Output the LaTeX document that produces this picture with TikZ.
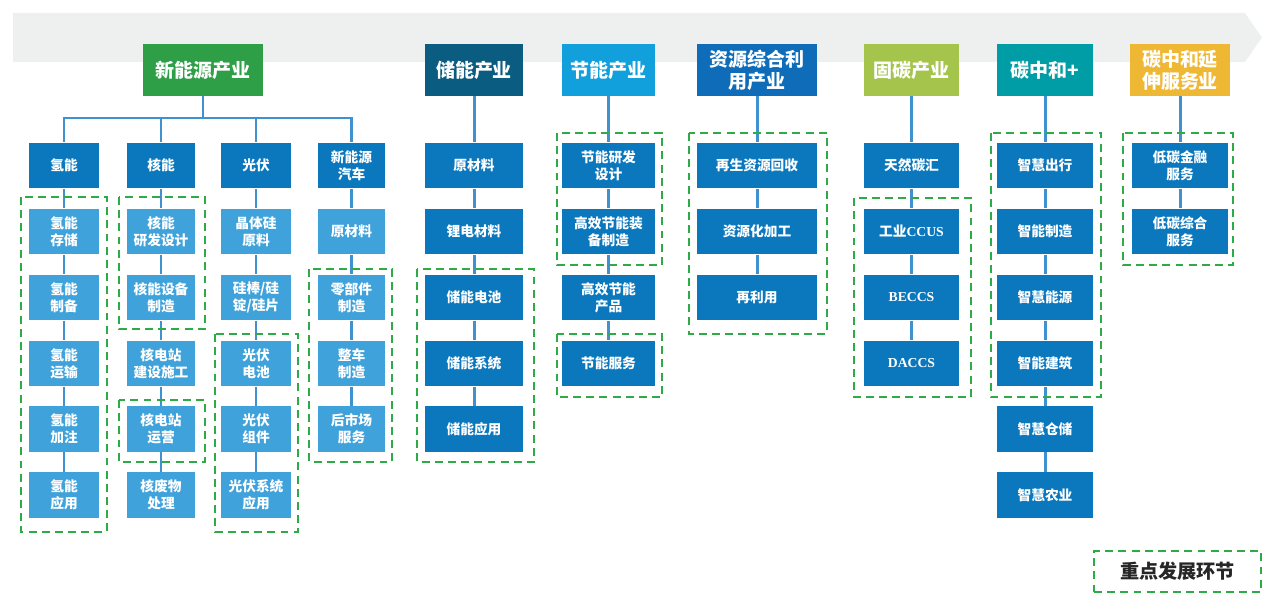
\documentclass[tikz,border=0pt]{standalone}
\usepackage{fontspec}
\setmainfont{Noto Sans CJK SC}
\newfontfamily\serifen{Liberation Serif}
\definecolor{bannergray}{HTML}{EEF0F0}
\definecolor{linkblue}{HTML}{4091D0}
\definecolor{boxblue}{HTML}{0B78BE}
\definecolor{lightblue}{HTML}{40A2DA}
\definecolor{keygreen}{HTML}{2EAA46}
\definecolor{hdrgreen}{HTML}{2E9F47}
\definecolor{hdrnavy}{HTML}{0A5C80}
\definecolor{hdrsky}{HTML}{11A0DB}
\definecolor{hdrblue}{HTML}{0E6CB8}
\definecolor{hdrlime}{HTML}{A4C44C}
\definecolor{hdrteal}{HTML}{009DA6}
\definecolor{hdrgold}{HTML}{EFB834}
\tikzset{
  link/.style={draw=linkblue, line width=1.7pt},
  hdr/.style={fill=#1, text=white, font=\bfseries\fontsize{10.8}{12.5}\selectfont,
    minimum height=1.04cm, inner sep=0pt, align=center},
  box/.style={fill=boxblue, text=white, font=\bfseries\fontsize{7.8}{9.5}\selectfont,
    minimum height=0.92cm, inner sep=0pt, align=center},
  lbox/.style={box, fill=lightblue},
  keyframe/.style={draw=keygreen, line width=1.1pt, dash pattern=on 4.5pt off 3pt},
  colq/.style={minimum width=1.4cm},
  colh/.style={minimum width=1.36cm},
  colc/.style={minimum width=1.34cm},
  colcn/.style={minimum width=1.96cm},
  coljn/.style={minimum width=1.86cm},
  colzy/.style={minimum width=2.4cm},
  colgt/.style={minimum width=1.9cm},
  coltz/.style={minimum width=1.92cm},
}
\begin{document}
\begin{tikzpicture}[x=0.02cm,y=-0.02cm]
  \useasboundingbox (0,0) rectangle (1280,611);
  % banner arrow
  \fill[bannergray] (13,13) -- (1245,13) -- (1262,37.5) -- (1245,62) -- (13,62) -- cycle;

  % headers
  \node[hdr=hdrgreen, minimum width=2.4cm] (xny) at (203,70) {新能源产业};
  \node[hdr=hdrnavy, colcn] (cny) at (474,70) {储能产业};
  \node[hdr=hdrsky, coljn] (jny) at (608.5,70) {节能产业};
  \node[hdr=hdrblue, colzy] (zyy) at (757,70) {资源综合利\\用产业};
  \node[hdr=hdrlime, colgt] (gty) at (911.5,70) {固碳产业};
  \node[hdr=hdrteal, coltz] (tzh) at (1045,70) {碳中和+};
  \node[hdr=hdrgold, minimum width=2cm] (tys) at (1180,70) {碳中和延\\伸服务业};

  % new energy sub-industries
  \node[box, colq] (qn0) at (64,165.5) {氢能};
  \node[lbox, colq] (qn1) at (64,231.5) {氢能\\存储};
  \node[lbox, colq] (qn2) at (64,297.5) {氢能\\制备};
  \node[lbox, colq] (qn3) at (64,363.5) {氢能\\运输};
  \node[lbox, colq] (qn4) at (64,429) {氢能\\加注};
  \node[lbox, colq] (qn5) at (64,495) {氢能\\应用};

  \node[box, colh] (hn0) at (161,165.5) {核能};
  \node[lbox, colh] (hn1) at (161,231.5) {核能\\研发设计};
  \node[lbox, colh] (hn2) at (161,297.5) {核能设备\\制造};
  \node[lbox, colh] (hn3) at (161,363.5) {核电站\\建设施工};
  \node[lbox, colh] (hn4) at (161,429) {核电站\\运营};
  \node[lbox, colh] (hn5) at (161,495) {核废物\\处理};

  \node[box, colq] (gf0) at (256,165.5) {光伏};
  \node[lbox, colq] (gf1) at (256,231.5) {晶体硅\\原料};
  \node[lbox, colq] (gf2) at (256,297.5) {硅棒/硅\\锭/硅片};
  \node[lbox, colq] (gf3) at (256,363.5) {光伏\\电池};
  \node[lbox, colq] (gf4) at (256,429) {光伏\\组件};
  \node[lbox, colq] (gf5) at (256,495) {光伏系统\\应用};

  \node[box, colc] (qc0) at (351.5,165.5) {新能源\\汽车};
  \node[lbox, colc] (qc1) at (351.5,231.5) {原材料};
  \node[lbox, colc] (qc2) at (351.5,297.5) {零部件\\制造};
  \node[lbox, colc] (qc3) at (351.5,363.5) {整车\\制造};
  \node[lbox, colc] (qc4) at (351.5,429) {后市场\\服务};

  % other industries
  \node[box, colcn] (cn0) at (474,165.5) {原材料};
  \node[box, colcn] (cn1) at (474,231.5) {锂电材料};
  \node[box, colcn] (cn2) at (474,297.5) {储能电池};
  \node[box, colcn] (cn3) at (474,363.5) {储能系统};
  \node[box, colcn] (cn4) at (474,429) {储能应用};

  \node[box, coljn] (jn0) at (608.5,165.5) {节能研发\\设计};
  \node[box, coljn] (jn1) at (608.5,231.5) {高效节能装\\备制造};
  \node[box, coljn] (jn2) at (608.5,297.5) {高效节能\\产品};
  \node[box, coljn] (jn3) at (608.5,363.5) {节能服务};

  \node[box, colzy] (zy0) at (757,165.5) {再生资源回收};
  \node[box, colzy] (zy1) at (757,231.5) {资源化加工};
  \node[box, colzy] (zy2) at (757,297.5) {再利用};

  \node[box, colgt] (gt0) at (911.5,165.5) {天然碳汇};
  \node[box, colgt] (gt1) at (911.5,231.5) {工业{\serifen CCUS}};
  \node[box, colgt] (gt2) at (911.5,297.5) {\serifen BECCS};
  \node[box, colgt] (gt3) at (911.5,363.5) {\serifen DACCS};

  \node[box, coltz] (tz0) at (1045,165.5) {智慧出行};
  \node[box, coltz] (tz1) at (1045,231.5) {智能制造};
  \node[box, coltz] (tz2) at (1045,297.5) {智慧能源};
  \node[box, coltz] (tz3) at (1045,363.5) {智能建筑};
  \node[box, coltz] (tz4) at (1045,429) {智慧仓储};
  \node[box, coltz] (tz5) at (1045,495) {智慧农业};

  \node[box, coltz] (ys0) at (1180,165.5) {低碳金融\\服务};
  \node[box, coltz] (ys1) at (1180,231.5) {低碳综合\\服务};

  % connectors
  \coordinate (bar) at (203,118);
  \draw[link] (xny.south) -- (bar);
  \foreach \c in {qn0,hn0,gf0,qc0} {\draw[link] (\c.north) |- (bar);}
  \foreach \a/\b in {cny/cn0,jny/jn0,zyy/zy0,gty/gt0,tzh/tz0,tys/ys0} {\draw[link] (\a) -- (\b);}
  \foreach \a/\b in {qn0/qn1,qn1/qn2,qn2/qn3,qn3/qn4,qn4/qn5,
    hn0/hn1,hn1/hn2,hn2/hn3,hn3/hn4,hn4/hn5,
    gf0/gf1,gf1/gf2,gf2/gf3,gf3/gf4,gf4/gf5,
    qc0/qc1,qc1/qc2,qc2/qc3,qc3/qc4,
    cn0/cn1,cn1/cn2,cn2/cn3,cn3/cn4,
    jn0/jn1,jn1/jn2,jn2/jn3,
    zy0/zy1,zy1/zy2,
    gt0/gt1,gt1/gt2,gt2/gt3,
    tz0/tz1,tz1/tz2,tz2/tz3,tz3/tz4,tz4/tz5,
    ys0/ys1} {\draw[link] (\a) -- (\b);}

  % key links
  \draw[keyframe] (21,197) rectangle (107,532);
  \draw[keyframe] (119,197) rectangle (205,329);
  \draw[keyframe] (119,400) rectangle (205,462);
  \draw[keyframe] (215,334) rectangle (298,532);
  \draw[keyframe] (309,269) rectangle (392,462);
  \draw[keyframe] (417,269) rectangle (534,462);
  \draw[keyframe] (557,133) rectangle (662,265);
  \draw[keyframe] (557,334) rectangle (662,397);
  \draw[keyframe] (689,133) rectangle (827,334);
  \draw[keyframe] (854,198) rectangle (971,397);
  \draw[keyframe] (991,133) rectangle (1101,397);
  \draw[keyframe] (1123,133) rectangle (1233,265);

  % legend
  \node[keyframe, minimum width=3.34cm, minimum height=0.82cm, text=black!85,
    font=\bfseries\fontsize{10.9}{12}\selectfont] (legend) at (1177.5,571.5) {重点发展环节};
\end{tikzpicture}
\end{document}
